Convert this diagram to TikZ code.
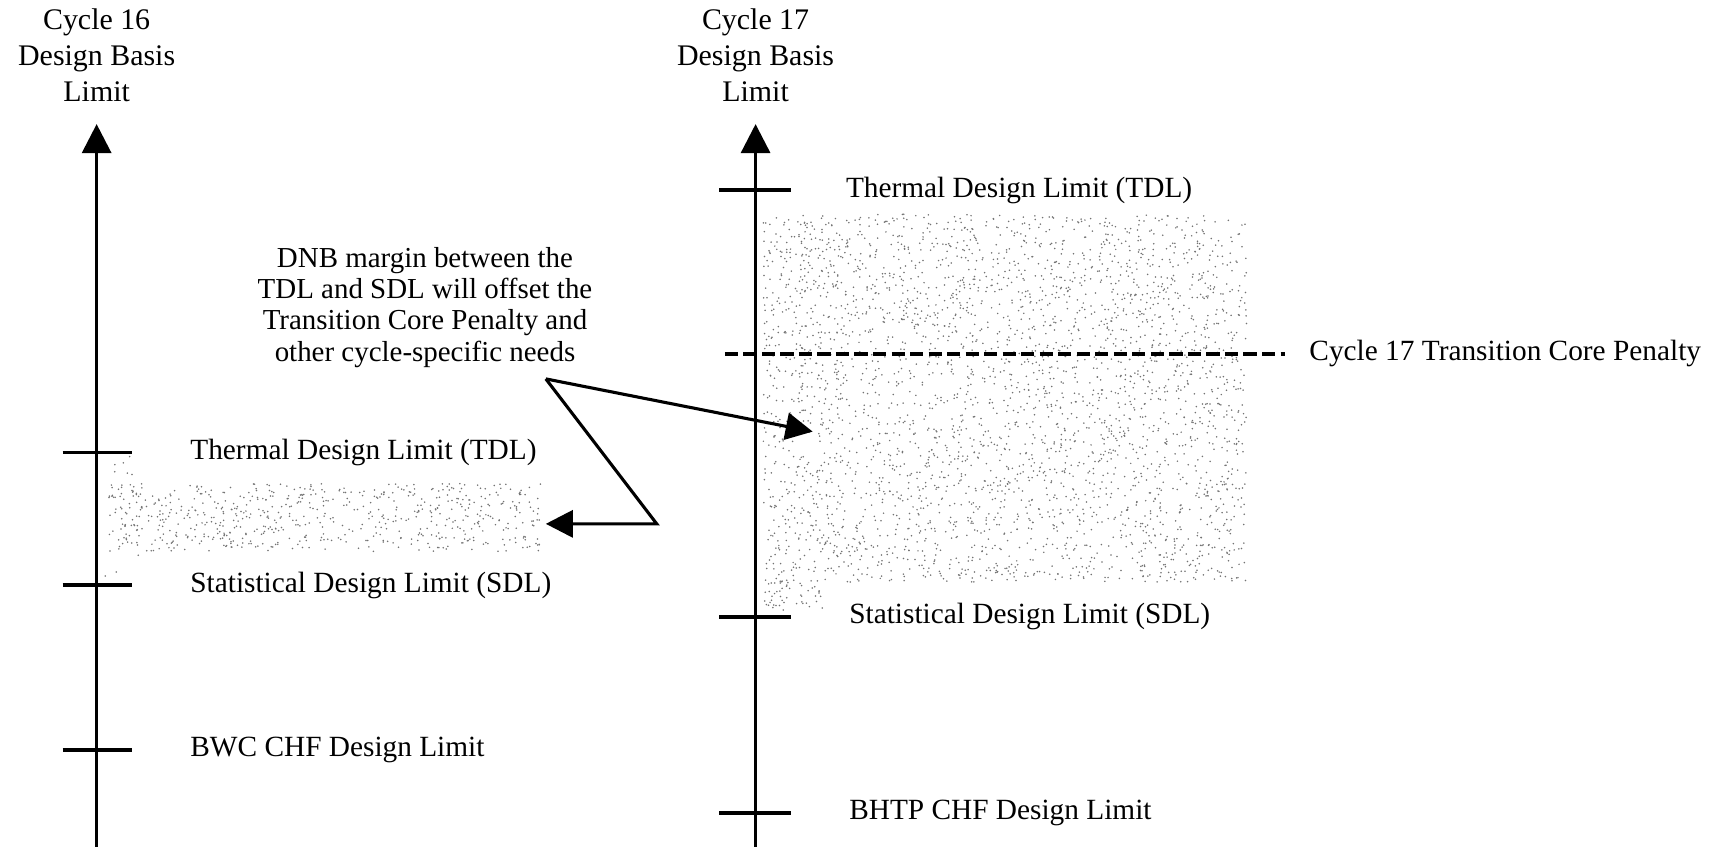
\documentclass[tikz,border=0pt]{standalone}
\usepackage{fontspec}
\setmainfont{Liberation Serif}
\usetikzlibrary{arrows.meta,positioning}

\tikzset{
  axisline/.style={line width=1.7pt,-{Triangle[length=15pt,width=15pt]}},
  tickline/.style={line width=2pt},
  limitlabel/.style={anchor=west,inner sep=0pt},
  heading/.style={align=center,inner sep=0pt,font=\fontsize{15.5}{18.6}\selectfont},
  pointer/.style={line width=1.6pt,line join=miter,-{Triangle[length=14pt,width=14pt]}},
  penaltyline/.style={line width=2pt,dash pattern=on 6.8pt off 2.8pt},
  stipple/.style={fill=black!55},
}

\begin{document}
\begin{tikzpicture}[x=0.02cm,y=-0.02cm,font=\fontsize{15.2}{18}\selectfont]
  \useasboundingbox (0,0) rectangle (1568,771);

  % Stippled margin regions (random dots)
  \pgfmathsetseed{1617}
  \foreach \k in {1,...,3400} {
    \pgfmathsetmacro\px{695+440*rnd}
    \pgfmathsetmacro\py{195+335*rnd}
    \fill[stipple] (\px,\py) circle (0.45pt);
  }
  \foreach \k in {1,...,50} {
    \pgfmathsetmacro\px{695+55*rnd}
    \pgfmathsetmacro\py{528+28*rnd}
    \fill[stipple] (\px,\py) circle (0.45pt);
  }
  \foreach \k in {1,...,650} {
    \pgfmathsetmacro\px{98+395*rnd}
    \pgfmathsetmacro\py{440+62*rnd}
    \fill[stipple] (\px,\py) circle (0.45pt);
  }
  \foreach \k in {1,...,25} {
    \pgfmathsetmacro\px{95+35*rnd}
    \pgfmathsetmacro\py{415+110*rnd}
    \fill[stipple] (\px,\py) circle (0.45pt);
  }

  % Axes
  \coordinate (ax16bot) at (88,771);
  \coordinate (ax16top) at (88,113);
  \coordinate (ax17bot) at (688,771);
  \coordinate (ax17top) at (688,113);
  \draw[axisline] (ax16bot) -- (ax16top);
  \draw[axisline] (ax17bot) -- (ax17top);

  \node[heading] (head16) at (88,50) {Cycle 16\\Design Basis\\Limit};
  \node[heading] (head17) at (688,50) {Cycle 17\\Design Basis\\Limit};

  % Tick marks
  \foreach \y in {412,533,683} {
    \draw[tickline] (57,\y) -- (120,\y);
  }
  \foreach \y in {173,562,740} {
    \draw[tickline] (655,\y) -- (720,\y);
  }

  % Limit labels
  \node[limitlabel] (tdl16) at (173,412) {Thermal Design Limit (TDL)};
  \node[limitlabel] (sdl16) at (173,533) {Statistical Design Limit (SDL)};
  \node[limitlabel] (bwc16) at (173,683) {BWC CHF Design Limit};
  \node[limitlabel] (tdl17) at (770,173) {Thermal Design Limit (TDL)};
  \node[limitlabel] (sdl17) at (773,561) {Statistical Design Limit (SDL)};
  \node[limitlabel] (bhtp17) at (773,740) {BHTP CHF Design Limit};

  % Transition core penalty
  \coordinate (penL) at (660,322);
  \coordinate (penR) at (1170,322);
  \draw[penaltyline] (penL) -- (penR);
  \node[limitlabel] (pen17) at (1192,322) {Cycle 17 Transition Core Penalty};

  % Annotation and pointers
  \node[align=center,inner sep=0pt,font=\fontsize{15}{16.1}\selectfont] (note) at (387,280)
    {DNB margin between the\\TDL and SDL will offset the\\Transition Core Penalty and\\other cycle-specific needs};
  \coordinate (vtx) at (497,345);
  \coordinate (bend) at (598,477);
  \coordinate (tip17) at (740,393);
  \coordinate (tip16) at (497,477);
  \draw[pointer] (vtx) -- (tip17);
  \draw[pointer] (vtx) -- (bend) -- (tip16);
\end{tikzpicture}
\end{document}
